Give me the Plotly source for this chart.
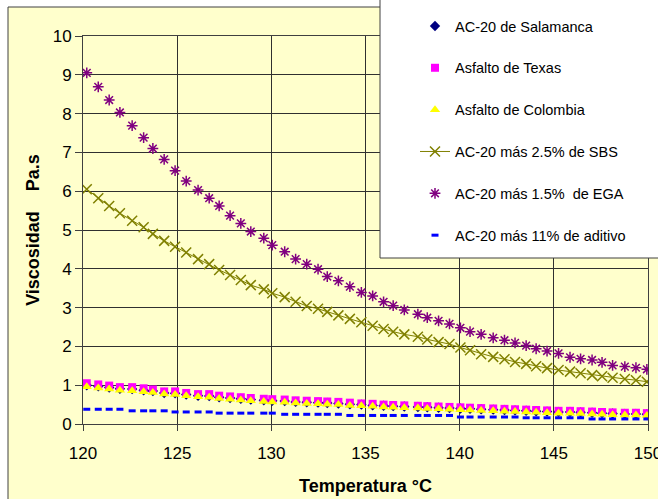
import plotly.graph_objects as go

# Temperature (°C) of each measurement
temps = [120.20, 120.81, 121.39, 121.96, 122.61, 123.22, 123.71, 124.31, 124.89, 125.48,
         126.11, 126.70, 127.23, 127.81, 128.38, 128.91, 129.60, 130.05, 130.71, 131.29,
         131.88, 132.48, 132.97, 133.56, 134.17, 134.78, 135.38, 135.96, 136.47, 137.06,
         137.78, 138.28, 138.88, 139.46, 140.04, 140.55, 141.14, 141.78, 142.38, 142.94,
         143.53, 144.06, 144.64, 145.25, 145.86, 146.42, 147.03, 147.56, 148.12, 148.77,
         149.36, 149.94]

salamanca = [1.00, 0.97, 0.94, 0.91, 0.90, 0.87, 0.85, 0.80, 0.79, 0.76,
             0.73, 0.72, 0.69, 0.67, 0.65, 0.63, 0.61, 0.60, 0.59, 0.57,
             0.56, 0.55, 0.54, 0.53, 0.51, 0.50, 0.48, 0.47, 0.46, 0.45,
             0.44, 0.43, 0.42, 0.41, 0.40, 0.39, 0.38, 0.37, 0.36, 0.35,
             0.34, 0.33, 0.32, 0.31, 0.31, 0.30, 0.29, 0.28, 0.27, 0.26,
             0.26, 0.25]

texas = [1.05, 1.02, 0.99, 0.95, 0.95, 0.92, 0.89, 0.84, 0.84, 0.80,
         0.77, 0.77, 0.73, 0.71, 0.69, 0.67, 0.65, 0.64, 0.63, 0.61,
         0.60, 0.59, 0.58, 0.57, 0.55, 0.53, 0.52, 0.50, 0.49, 0.48,
         0.47, 0.46, 0.45, 0.44, 0.43, 0.42, 0.41, 0.40, 0.39, 0.38,
         0.37, 0.36, 0.35, 0.34, 0.34, 0.33, 0.32, 0.31, 0.30, 0.29,
         0.29, 0.28]

colombia = [0.96, 0.93, 0.90, 0.87, 0.86, 0.83, 0.81, 0.77, 0.76, 0.73,
            0.70, 0.69, 0.66, 0.64, 0.62, 0.60, 0.58, 0.57, 0.56, 0.54,
            0.53, 0.52, 0.51, 0.50, 0.48, 0.47, 0.46, 0.44, 0.43, 0.42,
            0.41, 0.40, 0.39, 0.38, 0.37, 0.36, 0.35, 0.34, 0.33, 0.32,
            0.31, 0.30, 0.29, 0.28, 0.28, 0.27, 0.26, 0.25, 0.24, 0.23,
            0.23, 0.22]

sbs = [6.05, 5.82, 5.62, 5.43, 5.24, 5.07, 4.90, 4.72, 4.57, 4.42,
       4.25, 4.12, 3.97, 3.84, 3.71, 3.58, 3.47, 3.37, 3.27, 3.15,
       3.04, 2.97, 2.89, 2.80, 2.71, 2.62, 2.53, 2.45, 2.38, 2.31,
       2.25, 2.18, 2.11, 2.06, 1.97, 1.90, 1.80, 1.73, 1.67, 1.60,
       1.55, 1.49, 1.44, 1.39, 1.35, 1.31, 1.26, 1.23, 1.19, 1.16,
       1.13, 1.09]

ega = [9.05, 8.69, 8.35, 8.03, 7.69, 7.38, 7.10, 6.82, 6.53, 6.26,
       6.03, 5.82, 5.62, 5.37, 5.17, 4.96, 4.79, 4.61, 4.44, 4.25,
       4.12, 3.99, 3.80, 3.69, 3.54, 3.39, 3.30, 3.15, 3.05, 2.94,
       2.83, 2.74, 2.66, 2.58, 2.48, 2.38, 2.31, 2.22, 2.16, 2.09,
       2.02, 1.94, 1.88, 1.82, 1.72, 1.68, 1.65, 1.59, 1.51, 1.48,
       1.45, 1.41]

aditivo = [0.38, 0.38, 0.38, 0.38, 0.34, 0.34, 0.34, 0.34, 0.31, 0.31,
           0.31, 0.31, 0.28, 0.28, 0.28, 0.28, 0.28, 0.28, 0.25, 0.25,
           0.25, 0.25, 0.25, 0.25, 0.22, 0.22, 0.22, 0.22, 0.22, 0.22,
           0.22, 0.22, 0.22, 0.22, 0.18, 0.18, 0.18, 0.18, 0.18, 0.18,
           0.16, 0.16, 0.16, 0.16, 0.16, 0.16, 0.13, 0.13, 0.13, 0.13,
           0.13, 0.13]

names = ["AC-20 de Salamanca", "Asfalto de Texas", "Asfalto de Colombia",
         "AC-20 más 2.5% de SBS", "AC-20 más 1.5%  de EGA", "AC-20 más 11% de aditivo"]

x_ticks = [120, 125, 130, 135, 140, 145, 150]
y_ticks = list(range(0, 11))

FONT = "Liberation Sans, Arial, sans-serif"

fig = go.Figure()
fig.add_trace(go.Scatter(x=temps, y=salamanca, name=names[0], mode="markers", legendgroup="a",
                         marker=dict(symbol="diamond", size=8, color="#000080")))
fig.add_trace(go.Scatter(x=temps, y=texas, name=names[1], mode="markers", legendgroup="b",
                         marker=dict(symbol="square", size=8, color="#FF00FF")))
fig.add_trace(go.Scatter(x=temps, y=colombia, name=names[2], mode="markers", legendgroup="c",
                         marker=dict(symbol="triangle-up", size=9, color="#FFFF00")))
fig.add_trace(go.Scatter(x=temps, y=sbs, name=names[3], mode="lines+markers", legendgroup="d",
                         line=dict(color="#808000", width=1),
                         marker=dict(symbol="x-thin-open", size=10, color="#808000",
                                     line=dict(color="#808000", width=1.5))))
fig.add_trace(go.Scatter(x=temps, y=ega, name=names[4], mode="markers", legendgroup="e",
                         marker=dict(symbol="asterisk-open", size=9, color="#800080",
                                     line=dict(color="#800080", width=1.5))))
fig.add_trace(go.Scatter(x=temps, y=aditivo, name=names[5], mode="markers", legendgroup="f",
                         marker=dict(symbol="line-ew-open", size=5, color="#0000FF",
                                     line=dict(color="#0000FF", width=3))))

L, R, T, B = 83, 10, 36, 75
W, H = 658, 499
pw = W - L - R
ph = H - T - B


def px2x(p):
    return (p - L) / pw


def px2y(p):
    return (H - B - p) / ph


fig.update_layout(
    width=W, height=H,
    margin=dict(l=L, r=R, t=T, b=B, autoexpand=False),
    paper_bgcolor="white",
    plot_bgcolor="#C0C0C0",
    font=dict(family=FONT, color="black"),
    showlegend=True,
    legend=dict(
        x=px2x(415), y=px2y(10), xanchor="left", yanchor="top",
        bgcolor="rgba(0,0,0,0)", borderwidth=0,
        font=dict(family=FONT, size=14.5, color="black"),
        traceorder="grouped", tracegroupgap=20,
        maxheight=400,
    ),
    shapes=[
        dict(type="rect", xref="paper", yref="paper", layer="below",
             x0=px2x(8), x1=px2x(700), y0=px2y(560), y1=px2y(7),
             fillcolor="#FFFFCC", line=dict(color="#404040", width=1)),
        dict(type="rect", xref="paper", yref="paper", layer="above",
             x0=px2x(380), x1=px2x(700), y0=px2y(258), y1=px2y(-20),
             fillcolor="white", line=dict(color="#404040", width=1)),
    ],
)

fig.update_xaxes(
    range=[120, 150], tickvals=x_ticks, ticktext=[str(v) for v in x_ticks],
    showgrid=True, gridcolor="#303030", gridwidth=1,
    showline=True, linecolor="#404040", linewidth=1, mirror=True,
    ticks="outside", ticklen=6, tickcolor="#404040",
    tickfont=dict(family=FONT, size=17, color="black"),
    ticklabelstandoff=8, ticklabeloverflow="allow",
    zeroline=False, automargin=False,
    title=dict(text="<b>Temperatura °C</b>", font=dict(family=FONT, size=18, color="black"), standoff=16),
)
fig.update_yaxes(
    range=[0, 10], tickvals=y_ticks, ticktext=[str(v) for v in y_ticks],
    showgrid=True, gridcolor="#303030", gridwidth=1,
    showline=True, linecolor="#404040", linewidth=1, mirror=True,
    ticks="outside", ticklen=7, tickcolor="#404040",
    tickfont=dict(family=FONT, size=17, color="black"),
    zeroline=False, automargin=False,
    title=dict(text="<b>Viscosidad\u00a0\u00a0\u00a0\u00a0Pa.s</b>", font=dict(family=FONT, size=18, color="black"), standoff=8),
)

fig.write_html("out.html")
